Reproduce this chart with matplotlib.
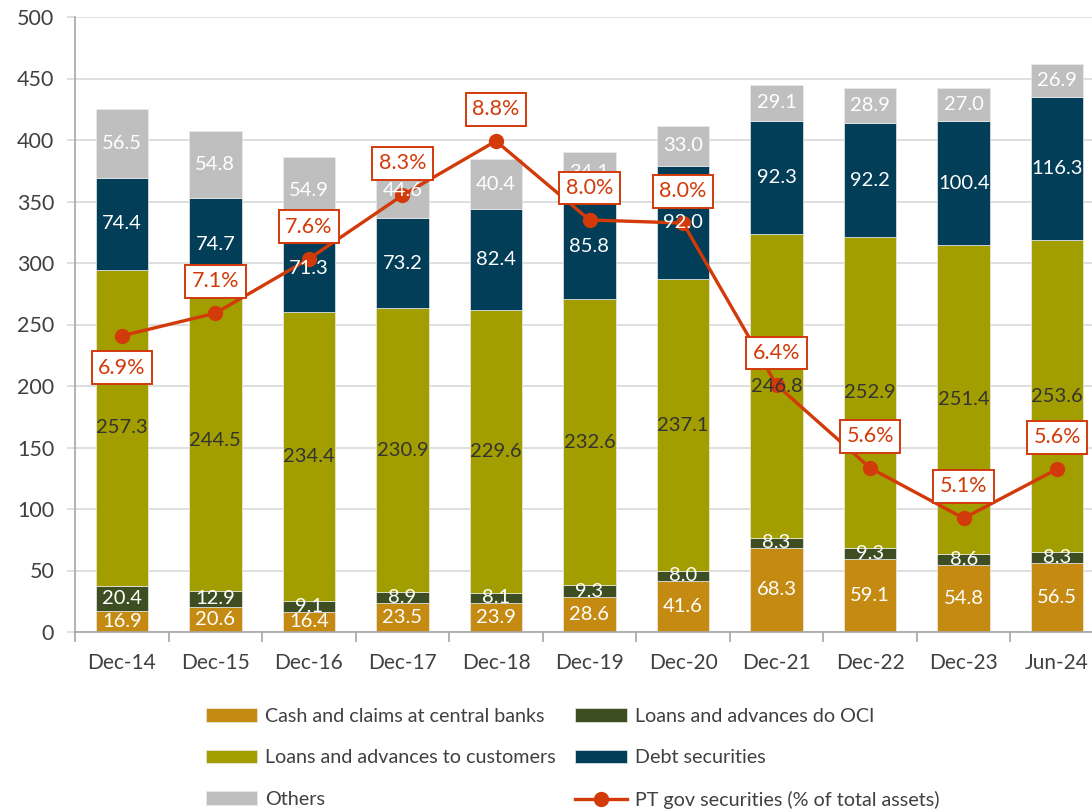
import matplotlib.pyplot as plt
import numpy as np

# chart data (EUR bn)
periods = ['Dec-14', 'Dec-15', 'Dec-16', 'Dec-17', 'Dec-18', 'Dec-19',
           'Dec-20', 'Dec-21', 'Dec-22', 'Dec-23', 'Jun-24']
cash = [16.9, 20.6, 16.4, 23.5, 23.9, 28.6, 41.6, 68.3, 59.1, 54.8, 56.5]
loans_oci = [20.4, 12.9, 9.1, 8.9, 8.1, 9.3, 8.0, 8.3, 9.3, 8.6, 8.3]
loans_customers = [257.3, 244.5, 234.4, 230.9, 229.6, 232.6, 237.1, 246.8, 252.9, 251.4, 253.6]
debt_securities = [74.4, 74.7, 71.3, 73.2, 82.4, 85.8, 92.0, 92.3, 92.2, 100.4, 116.3]
others = [56.5, 54.8, 54.9, 44.6, 40.4, 34.1, 33.0, 29.1, 28.9, 27.0, 26.9]
pt_gov_pct = [6.89, 7.11, 7.64, 8.26, 8.79, 8.02, 7.99, 6.41, 5.60, 5.11, 5.59]

series = [
    ('Cash and claims at central banks', cash, '#C58A12', 'white'),
    ('Loans and advances do OCI', loans_oci, '#3D4F22', 'white'),
    ('Loans and advances to customers', loans_customers, '#A29E00', '#333333'),
    ('Debt securities', debt_securities, '#023E58', 'white'),
    ('Others', others, '#BFBFBF', 'white'),
]
line_color = '#D23A0A'

plt.rcParams['font.family'] = ['Lato', 'DejaVu Sans']

fig = plt.figure(figsize=(10.92, 8.09), dpi=100)
ax = fig.add_axes([75 / 1092, 1 - 632 / 809, 1029 / 1092, 615 / 809])
ax2 = ax.twinx()

x = np.arange(len(periods))
width = 0.56
bottom = np.zeros(len(periods))
handles = {}
for name, vals, color, tcolor in series:
    vals = np.array(vals)
    bars = ax.bar(x, vals, width, bottom=bottom, color=color,
                  edgecolor='#EAEAEA', linewidth=0.5, label=name, zorder=2)
    handles[name] = bars
    # value labels go on the twin axes so they sit above the line
    for xi, b, v in zip(x, bottom, vals):
        ax2.text(xi, b + v / 2, f'{v:.1f}', transform=ax.transData,
                 ha='center', va='center', fontsize=14.5, color=tcolor, zorder=3)
    bottom += vals

ax.set_xlim(-0.5, len(periods) - 0.5)
ax.set_ylim(0, 500)
ax.set_yticks(range(0, 501, 50))
ax.set_xticks(x)
ax.set_xticklabels(periods)
ax.set_xticks(np.arange(-0.5, len(periods), 1), minor=True)
ax.tick_params(axis='x', which='major', length=0, pad=15, labelsize=15, labelcolor='#404040')
ax.tick_params(axis='x', which='minor', length=7, width=1.2, color='#A6A6A6', direction='out')
ax.tick_params(axis='y', length=6, width=1.2, color='#D9D9D9', pad=9,
               labelsize=15.5, labelcolor='#404040')
ax.grid(axis='y', color='#D9D9D9', linewidth=1.2, zorder=0)
ax.set_axisbelow(True)
for s in ['top', 'right']:
    ax.spines[s].set_visible(False)
for s in ['left', 'bottom']:
    ax.spines[s].set_color('#A6A6A6')
    ax.spines[s].set_linewidth(1.2)

# PT gov securities line on hidden secondary axis
ax2.set_ylim(4, 10)
ax2.set_axis_off()
line, = ax2.plot(x, pt_gov_pct, color=line_color, linewidth=2.4, marker='o',
                 markersize=10, zorder=2, label='PT gov securities (% of total assets)')
for i, (xi, p) in enumerate(zip(x, pt_gov_pct)):
    dy = -23 if i == 0 else 23
    ax2.annotate(f'{p:.1f}%', (xi, p), xytext=(0, dy), textcoords='offset points',
                 ha='center', va='center', fontsize=15.5, color=line_color, zorder=5,
                 bbox=dict(boxstyle='square,pad=0.3', fc='white', ec=line_color, lw=1.4))

order = ['Cash and claims at central banks', 'Loans and advances to customers', 'Others',
         'Loans and advances do OCI', 'Debt securities']
leg_handles = [handles[n] for n in order[:3]] + [handles[n] for n in order[3:]] + [line]
leg_labels = order + ['PT gov securities (% of total assets)']
fig.legend(leg_handles, leg_labels, loc='upper left', bbox_to_anchor=(190 / 1092, 1 - 692 / 809),
           ncol=2, frameon=False, fontsize=14.2, handlelength=2.6, handleheight=0.7,
           handletextpad=0.4, columnspacing=1.0, labelspacing=1.25, labelcolor='#404040',
           borderpad=0.3)

plt.savefig('out.png', dpi=100)
